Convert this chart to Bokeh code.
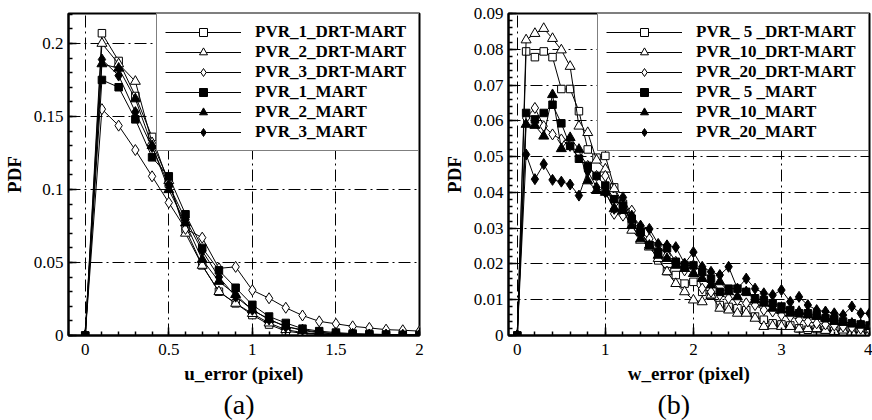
import numpy as np
from bokeh.plotting import figure
from bokeh.layouts import row
from bokeh.models import Range1d, Legend, LegendItem, Title, FixedTicker, CustomJSTickFormatter
from bokeh.embed import file_html
from bokeh.resources import INLINE

# ---------------- data: panel (a) ----------------
u_x = [0.0, 0.1, 0.2, 0.3, 0.4, 0.5, 0.6, 0.7, 0.8, 0.9, 1.0,
       1.1, 1.2, 1.3, 1.4, 1.5, 1.6, 1.7, 1.8, 1.9, 2.0]
u_pvr1_drt = [0, 0.207, 0.188, 0.164, 0.136, 0.104, 0.073, 0.048, 0.030, 0.022, 0.014,
              0.0075, 0.003, 0.0015, 0.001, 0.0005, 0.0003, 0.0002, 0.0001, 0.0001, 0.0001]
u_pvr2_drt = [0, 0.200, 0.186, 0.174, 0.132, 0.106, 0.070, 0.048, 0.030, 0.022, 0.015,
              0.0085, 0.004, 0.002, 0.001, 0.0006, 0.0004, 0.0003, 0.0002, 0.0001, 0.0001]
u_pvr3_drt = [0, 0.155, 0.1437, 0.127, 0.109, 0.091, 0.073, 0.067, 0.046, 0.047, 0.031,
              0.0255, 0.019, 0.0137, 0.0097, 0.008, 0.0063, 0.0052, 0.004, 0.0036, 0.003]
u_pvr1_mart = [0, 0.175, 0.170, 0.148, 0.122, 0.109, 0.083, 0.060, 0.0446, 0.0327, 0.021,
               0.013, 0.0086, 0.0047, 0.003, 0.002, 0.0013, 0.001, 0.0007, 0.0005, 0.0004]
u_pvr2_mart = [0, 0.186, 0.183, 0.162, 0.130, 0.0998, 0.077, 0.052, 0.037, 0.028, 0.0175,
               0.011, 0.0063, 0.0034, 0.0018, 0.001, 0.0007, 0.0005, 0.0003, 0.0002, 0.0002]
u_pvr3_mart = [0, 0.189, 0.178, 0.153, 0.129, 0.103, 0.0795, 0.058, 0.040, 0.0266, 0.0176,
               0.011, 0.006, 0.004, 0.0022, 0.0015, 0.001, 0.0007, 0.0005, 0.0003, 0.0003]
u_labels = ["PVR_1_DRT-MART", "PVR_2_DRT-MART", "PVR_3_DRT-MART",
            "PVR_1_MART", "PVR_2_MART", "PVR_3_MART"]

# ---------------- data: panel (b) ----------------
w_x = [0.0, 0.1, 0.2, 0.3, 0.4, 0.5, 0.6, 0.7, 0.8, 0.9, 1.0,
       1.1, 1.2, 1.3, 1.4, 1.5, 1.6, 1.7, 1.8, 1.9, 2.0,
       2.1, 2.2, 2.3, 2.4, 2.5, 2.6, 2.7, 2.8, 2.9, 3.0,
       3.1, 3.2, 3.3, 3.4, 3.5, 3.6, 3.7, 3.8, 3.9, 4.0]
w_pvr5_drt = [0, 0.0794, 0.0778, 0.0794, 0.0778, 0.0689, 0.0689, 0.0627, 0.052, 0.0497, 0.0502,
              0.0414, 0.0368, 0.031, 0.029, 0.0252, 0.021, 0.018, 0.0169, 0.0145, 0.015,
              0.0122, 0.0113, 0.0085, 0.008, 0.0076, 0.0071, 0.0053, 0.0044, 0.0034, 0.0031,
              0.0028, 0.002, 0.0016, 0.0018, 0.0016, 0.0013, 0.0011, 0.0011, 0.0009, 0.0007]
w_pvr10_drt = [0, 0.0826, 0.0844, 0.0858, 0.083, 0.0798, 0.0752, 0.0585, 0.0567, 0.049, 0.0465,
               0.041, 0.0358, 0.0294, 0.0266, 0.0247, 0.0215, 0.0178, 0.0145, 0.0122, 0.0099,
               0.0094, 0.0113, 0.0076, 0.0071, 0.0062, 0.0062, 0.0048, 0.0025, 0.0027, 0.0025,
               0.0025, 0.0018, 0.0019, 0.0019, 0.0014, 0.0011, 0.0015, 0.0009, 0.0008, 0.0006]
w_pvr20_drt = [0, 0.0608, 0.0636, 0.0585, 0.0562, 0.0548, 0.053, 0.0511, 0.0474, 0.0446, 0.0446,
               0.034, 0.0335, 0.0349, 0.0289, 0.027, 0.0252, 0.0224, 0.0206, 0.0182, 0.0196,
               0.0131, 0.0122, 0.0113, 0.0104, 0.0099, 0.009, 0.0085, 0.0071, 0.0067, 0.0057,
               0.0053, 0.0044, 0.0039, 0.0034, 0.0031, 0.0028, 0.0025, 0.0022, 0.0019, 0.0016]
w_pvr5_mart = [0, 0.0622, 0.0604, 0.0622, 0.0645, 0.0593, 0.053, 0.0494, 0.0474, 0.0446, 0.0419,
               0.0381, 0.0363, 0.0326, 0.0289, 0.0252, 0.0233, 0.0244, 0.0206, 0.0196, 0.0196,
               0.0178, 0.0159, 0.0122, 0.0131, 0.0131, 0.0122, 0.0104, 0.0099, 0.009, 0.0081,
               0.0071, 0.0062, 0.0062, 0.0057, 0.0048, 0.0046, 0.0039, 0.0034, 0.0031, 0.0028]
w_pvr10_mart = [0, 0.059, 0.0587, 0.0557, 0.0673, 0.0522, 0.0553, 0.052, 0.0432, 0.0405, 0.040,
                0.0354, 0.0349, 0.0307, 0.027, 0.0252, 0.0224, 0.0215, 0.0196, 0.0187, 0.0173,
                0.0159, 0.0141, 0.015, 0.0122, 0.0108, 0.0122, 0.0099, 0.009, 0.0076, 0.0071,
                0.0062, 0.0067, 0.0057, 0.0053, 0.0048, 0.0039, 0.0037, 0.0034, 0.003, 0.0025]
w_pvr20_mart = [0, 0.0506, 0.0437, 0.0479, 0.0435, 0.043, 0.0422, 0.0391, 0.046, 0.0414, 0.040,
                0.0354, 0.0386, 0.0335, 0.0307, 0.0298, 0.0256, 0.0252, 0.0247, 0.0201, 0.0233,
                0.0192, 0.0178, 0.0169, 0.0192, 0.0131, 0.0159, 0.0131, 0.0118, 0.0113, 0.0127,
                0.0094, 0.0108, 0.0085, 0.0071, 0.0067, 0.0062, 0.0057, 0.0081, 0.0062, 0.0062]
w_labels = ["PVR_ 5 _DRT-MART", "PVR_10_DRT-MART", "PVR_20_DRT-MART",
            "PVR_ 5 _MART", "PVR_10_MART", "PVR_20_MART"]

u_xticks = [0, 0.5, 1, 1.5, 2]
u_yticks = [0, 0.05, 0.1, 0.15, 0.2]
w_xticks = [0, 1, 2, 3, 4]
w_yticks = [0, 0.01, 0.02, 0.03, 0.04, 0.05, 0.06, 0.07, 0.08, 0.09]

SERIF = "'Liberation Serif', 'Times New Roman', serif"
MARKERS = [("square", "white", 7.5), ("triangle", "white", 10), ("diamond", "white", 11),
           ("square", "black", 7.5), ("triangle", "black", 10), ("diamond", "black", 11)]

fmt = CustomJSTickFormatter(code="return String(parseFloat(tick.toFixed(6)));")


def make_panel(width, height, xr, yr, xticks, xminor, yticks, yminor,
               xgrid, ygrid, xs, series, labels, xlabel, letter, letter_offset,
               bl, br, bt, bb, label_width):
    p = figure(width=width, height=height, output_backend="svg", toolbar_location=None,
               x_range=Range1d(*xr), y_range=Range1d(*yr),
               min_border_left=bl, min_border_right=br, min_border_top=bt, min_border_bottom=bb)
    p.background_fill_color = "white"
    p.border_fill_color = "white"
    p.outline_line_color = "black"
    p.outline_line_width = 2

    p.xaxis.ticker = FixedTicker(ticks=xticks, minor_ticks=xminor)
    p.yaxis.ticker = FixedTicker(ticks=yticks, minor_ticks=yminor)
    for ax in (p.xaxis[0], p.yaxis[0]):
        ax.formatter = fmt
        ax.axis_line_color = "black"
        ax.axis_line_width = 2
        ax.major_tick_in = 8
        ax.major_tick_out = 0
        ax.minor_tick_in = 4
        ax.minor_tick_out = 0
        ax.major_tick_line_color = "black"
        ax.minor_tick_line_color = "black"
        ax.major_tick_line_width = 1.5
        ax.minor_tick_line_width = 1.5
        ax.major_label_text_font = SERIF
        ax.major_label_text_font_size = "17px"
        ax.major_label_text_color = "black"
        ax.axis_label_text_font = SERIF
        ax.axis_label_text_font_size = "19px"
        ax.axis_label_text_font_style = "bold"
        ax.axis_label_text_color = "black"
    p.xaxis.axis_label = xlabel
    p.yaxis.axis_label = "PDF"
    p.xaxis.major_label_standoff = 8
    p.xaxis.axis_label_standoff = 5
    p.yaxis.major_label_standoff = 5
    p.yaxis.axis_label_standoff = 6

    p.xgrid.ticker = FixedTicker(ticks=xgrid)
    p.ygrid.ticker = FixedTicker(ticks=ygrid)
    for g in (p.xgrid[0], p.ygrid[0]):
        g.grid_line_color = "black"
        g.grid_line_width = 1
        g.grid_line_dash = "12 4 2 4"

    items = []
    for ys, lab, (mk, fill, sz) in zip(series, labels, MARKERS):
        r1 = p.line(xs, ys, line_color="black", line_width=1)
        r2 = p.scatter(xs, ys, marker=mk, size=sz, fill_color=fill, line_color="black",
                       line_width=1)
        items.append(LegendItem(label=lab, renderers=[r1, r2]))

    leg = Legend(items=items, location="top_right", margin=0, padding=8, spacing=0,
                 glyph_width=76, glyph_height=20, label_height=20, label_standoff=14,
                 label_width=label_width,
                 label_text_font=SERIF, label_text_font_size="17px",
                 label_text_font_style="bold", label_text_color="black",
                 border_line_color="black", border_line_width=1.5,
                 background_fill_color="white", background_fill_alpha=1.0)
    p.add_layout(leg, "center")

    t = Title(text=letter, align="left", offset=letter_offset, text_font=SERIF,
              text_font_size="28px", text_font_style="normal", text_color="black", standoff=0)
    p.add_layout(t, "below")
    return p


u_xminor = list(np.round(np.arange(-0.1, 2.0001, 0.1), 3))
u_yminor = list(np.round(np.arange(0, 0.2201, 0.01), 3))
w_xminor = list(np.round(np.arange(0, 4.0001, 0.2), 3))
w_yminor = list(np.round(np.arange(0, 0.0901, 0.002), 4))

p1 = make_panel(440, 420, (-0.1, 2.0), (0, 0.2205), u_xticks, u_xminor, u_yticks, u_yminor,
                [0, 0.5, 1, 1.5], [0.05, 0.1, 0.15, 0.2], u_x,
                [u_pvr1_drt, u_pvr2_drt, u_pvr3_drt, u_pvr1_mart, u_pvr2_mart, u_pvr3_mart],
                u_labels, "u_error (pixel)", "(a)", 155, 61, 21, 8, 85, 155)
p2 = make_panel(432, 420, (-0.1, 4.0), (0, 0.09), w_xticks, w_xminor, w_yticks, w_yminor,
                [0, 1, 2, 3], [0.01, 0.02, 0.03, 0.04, 0.05, 0.06, 0.07, 0.08], w_x,
                [w_pvr5_drt, w_pvr10_drt, w_pvr20_drt, w_pvr5_mart, w_pvr10_mart, w_pvr20_mart],
                w_labels, "w_error (pixel)", "(b)", 149, 68, 3, 13, 83, 164)

layout = row(p1, p2, spacing=0)
open("out.html", "w").write(file_html(layout, INLINE))
